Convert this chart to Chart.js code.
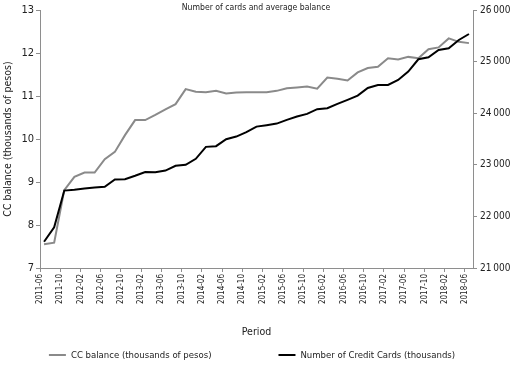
<!DOCTYPE html>
<html><head><meta charset="utf-8">
<script src="https://cdn.jsdelivr.net/npm/chart.js@4/dist/chart.umd.min.js"></script>
<style>html,body{margin:0;padding:0;background:#fff;}#wrap{width:512px;height:365px;}</style>
</head><body><div id="wrap"><canvas id="c" width="512" height="365"></canvas></div>
<script>
const periods = ["2011-06","2011-08","2011-10","2011-12",
  "2012-02","2012-04","2012-06","2012-08","2012-10","2012-12",
  "2013-02","2013-04","2013-06","2013-08","2013-10","2013-12",
  "2014-02","2014-04","2014-06","2014-08","2014-10","2014-12",
  "2015-02","2015-04","2015-06","2015-08","2015-10","2015-12",
  "2016-02","2016-04","2016-06","2016-08","2016-10","2016-12",
  "2017-02","2017-04","2017-06","2017-08","2017-10","2017-12",
  "2018-02","2018-04","2018-06"];
const ccBalance = [7.55,7.59,8.81,9.12,9.22,9.22,9.53,9.70,10.09,10.44,
  10.44,10.56,10.69,10.81,11.16,11.10,11.09,11.12,11.06,11.08,
  11.09,11.09,11.09,11.12,11.18,11.20,11.22,11.17,11.43,11.40,
  11.36,11.55,11.65,11.68,11.88,11.85,11.91,11.88,12.09,12.13,
  12.34,12.26,12.23];
const creditCards = [21509,21790,22500,22516,22541,22560,22574,22716,22720,22787,
  22860,22858,22889,22980,23000,23116,23348,23361,23497,23547,
  23633,23740,23768,23799,23871,23935,23987,24078,24097,24180,
  24258,24341,24490,24548,24548,24645,24806,25046,25084,25226,
  25259,25419,25535];
const tickLabels = ["2011-06","2011-10","2012-02","2012-06","2012-10","2013-02","2013-06","2013-10",
  "2014-02","2014-06","2014-10","2015-02","2015-06","2015-10","2016-02","2016-06","2016-10",
  "2017-02","2017-06","2017-10","2018-02","2018-06"];
const seriesNames = ["CC balance (thousands of pesos)","Number of Credit Cards (thousands)"];

const FONT = '"Liberation Sans Narrow","DejaVu Sans Condensed","Arial Narrow",sans-serif';
const AXIS = '#8e8e8e';
const TXT = '#222';

const legendPlugin = {
  id: 'customLegend',
  afterDraw(chart) {
    const ctx = chart.ctx;
    ctx.save();
    ctx.font = '9.5px ' + FONT;
    ctx.textBaseline = 'middle';
    const items = chart.data.datasets.map(d => ({text: d.label, color: d.borderColor}));
    const sample = 17, gap = 5, between = 67;
    const widths = items.map(it => sample + gap + ctx.measureText(it.text).width);
    const total = widths.reduce((a, b) => a + b, 0) + between * (items.length - 1);
    let x = 252 - total / 2;
    const y = 355;
    items.forEach((it, i) => {
      ctx.strokeStyle = it.color; ctx.lineWidth = 2;
      ctx.beginPath(); ctx.moveTo(x, y); ctx.lineTo(x + sample, y); ctx.stroke();
      ctx.fillStyle = TXT; ctx.textAlign = 'left';
      ctx.fillText(it.text, x + sample + gap, y + 0.5);
      x += widths[i] + between;
    });
    ctx.restore();
  }
};

new Chart(document.getElementById('c'), {
  type: 'line',
  data: {
    datasets: [
      {label: seriesNames[0], data: periods.map((p, i) => ({x: i, y: ccBalance[i]})),
       borderColor: '#8a8a8a', backgroundColor: '#8a8a8a', borderWidth: 2, pointRadius: 0,
       tension: 0, yAxisID: 'y', order: 2},
      {label: seriesNames[1], data: periods.map((p, i) => ({x: i, y: creditCards[i]})),
       borderColor: '#000000', backgroundColor: '#000000', borderWidth: 2, pointRadius: 0,
       tension: 0, yAxisID: 'y1', order: 1}
    ]
  },
  options: {
    responsive: false,
    animation: false,
    devicePixelRatio: 1,
    layout: {padding: {left: 0, right: 0, top: 0, bottom: 25}},
    plugins: {
      legend: {display: false},
      tooltip: {enabled: false},
      title: {display: true, text: 'Number of cards and average balance', color: TXT,
        font: {family: FONT, size: 8.6, weight: 'normal'}, padding: {top: 2.5, bottom: -2.8}}
    },
    scales: {
      x: {
        type: 'linear', min: -0.4, max: 42.4,
        afterBuildTicks: s => { s.ticks = tickLabels.map((t, j) => ({value: 2 * j - 0.4})); },
        afterFit: s => { s.height = 72; },
        ticks: {autoSkip: false, maxRotation: 90, minRotation: 90, padding: 2, color: TXT,
          font: {family: FONT, size: 8}, callback: (v, i) => tickLabels[i]},
        grid: {drawOnChartArea: false, drawTicks: true, tickLength: 4, color: AXIS},
        border: {display: true, color: AXIS, width: 1},
        title: {display: true, text: 'Period', color: TXT, font: {family: FONT, size: 10.5},
          padding: {top: 0, bottom: 1.5}}
      },
      y: {
        position: 'left', min: 7, max: 13,
        afterFit: s => { s.width = 40; },
        ticks: {stepSize: 1, padding: 2, color: TXT, font: {family: FONT, size: 11}},
        grid: {drawOnChartArea: false, drawTicks: true, tickLength: 4, color: AXIS},
        border: {display: true, color: AXIS, width: 1},
        title: {display: true, text: 'CC balance (thousands of pesos)', color: TXT,
          font: {family: FONT, size: 10.5}, padding: {top: 1.5, bottom: 0}}
      },
      y1: {
        position: 'right', min: 21000, max: 26000,
        afterFit: s => { s.width = 39; },
        ticks: {stepSize: 1000, padding: 3, color: TXT, font: {family: FONT, size: 10},
          callback: v => String(v).replace(/(\d+)(\d{3})$/, '$1\u2009$2')},
        grid: {drawOnChartArea: false, drawTicks: true, tickLength: 4, color: AXIS},
        border: {display: true, color: AXIS, width: 1}
      }
    }
  },
  plugins: [legendPlugin]
});
</script></body></html>
